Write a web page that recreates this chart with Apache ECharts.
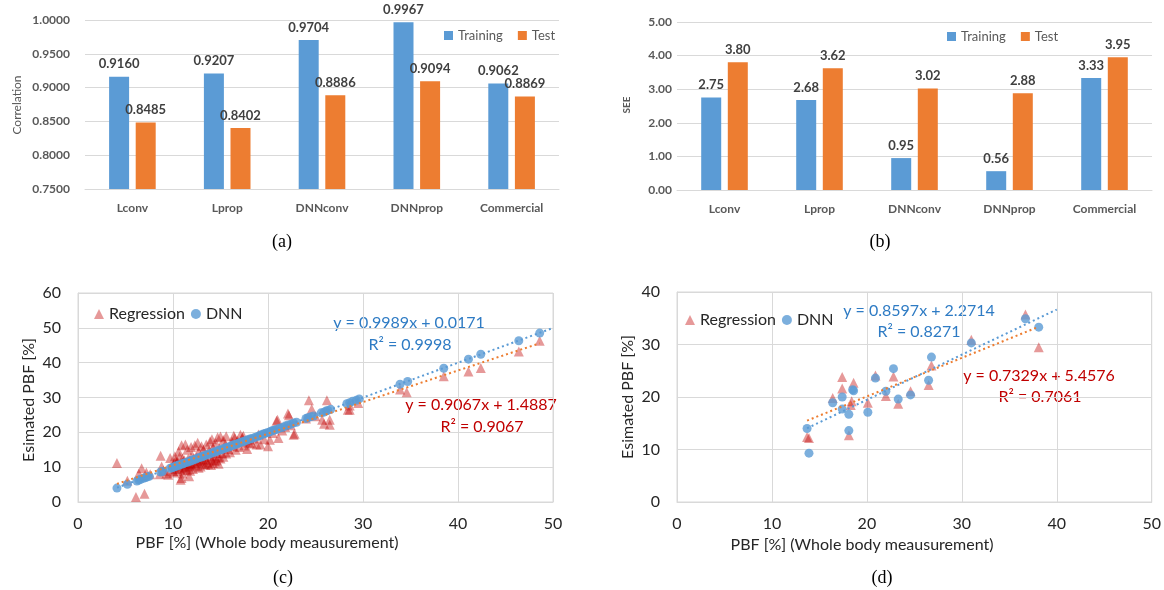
<!DOCTYPE html>
<html>
<head>
<meta charset="utf-8">
<script src="https://cdn.jsdelivr.net/npm/echarts@6/dist/echarts.min.js"></script>
<style>
html,body{margin:0;padding:0;background:#fff}
#chart{width:1164px;height:590px}
</style>
</head>
<body>
<div id="chart"></div>
<script>
// data
var barCategories = ['Lconv', 'Lprop', 'DNNconv', 'DNNprop', 'Commercial'];
var corrTraining = [0.9160, 0.9207, 0.9704, 0.9967, 0.9062];
var corrTest = [0.8485, 0.8402, 0.8886, 0.9094, 0.8869];
var seeTraining = [2.75, 2.68, 0.95, 0.56, 3.33];
var seeTest = [3.80, 3.62, 3.02, 2.88, 3.95];

// (c) whole body set
var wholeDNN = [
  [4.1,4.0],[5.2,5.1],[6.2,6.0],[6.4,6.3],[6.6,6.5],[6.9,6.8],[7.1,7.0],[7.3,7.2],[7.5,7.4],[8.7,8.6],[8.9,8.8],
  [9.7,9.7],[9.9,9.8],[10.0,10.0],[10.2,10.1],[10.3,10.3],[10.5,10.4],[10.6,10.6],[10.8,10.8],[11.0,10.9],[11.1,11.1],
  [11.3,11.3],[11.5,11.4],[11.7,11.7],[11.9,11.8],[12.0,12.0],[12.2,12.2],[12.4,12.3],[12.6,12.6],[12.8,12.8],[13.0,12.9],
  [13.1,13.1],[13.3,13.3],[13.5,13.5],[13.7,13.7],[13.9,13.8],[14.1,14.1],[14.3,14.3],[14.5,14.4],[14.7,14.7],[14.9,14.9],
  [15.1,15.0],[15.3,15.3],[15.5,15.5],[15.7,15.7],[15.9,15.8],[16.1,16.1],[16.3,16.3],[16.5,16.5],[16.7,16.6],[16.9,16.9],
  [17.1,17.1],[17.3,17.3],[17.5,17.4],[17.7,17.7],[17.9,17.9],[18.1,18.1],[18.3,18.2],[18.6,18.5],[18.9,18.8],[19.1,19.0],
  [19.3,19.3],[19.5,19.5],[19.7,19.7],[19.9,19.9],[20.1,20.0],[20.3,20.3],[20.5,20.5],[20.7,20.7],[20.9,20.8],[21.2,21.2],
  [21.5,21.4],[21.8,21.8],[22.1,22.1],[22.4,22.3],[22.7,22.7],[23.0,22.9],
  [24.0,24.0],[24.2,24.2],[24.5,24.5],[24.8,24.7],[25.6,25.6],[25.9,25.8],[26.1,26.1],[26.3,26.3],[26.6,26.6],
  [28.3,28.2],[28.6,28.5],[28.9,28.9],[29.3,29.2],[29.6,29.6],[33.9,33.8],[34.7,34.6],[38.5,38.4],[41.1,41.0],
  [42.4,42.4],[46.4,46.3],[48.6,48.5]
];
var wholeRegression = [
  [4.1,11.2],[5.2,6.1],[6.1,1.4],[7.0,2.4],[6.7,9.7],[6.4,8.2],[7.2,8.5],[7.6,8.0],[8.7,13.3],[8.8,10.2],[8.6,8.0],[9.0,9.0],
  [9.7,12.6],[10.2,13.1],[10.1,11.2],[10.9,16.3],[10.9,6.9],[10.8,6.4],[11.7,7.4],[10.1,8.5],[11.8,9.0],[11.5,15.0],
  [12.3,16.3],[12.3,11.2],[13.2,15.0],[13.9,17.4],[14.1,12.1],[14.6,14.1],[15.0,18.8],[15.5,16.5],[16.2,17.4],[16.5,18.4],
  [17.1,19.3],[17.6,17.4],[18.1,17.9],[18.8,16.5],[13.4,10.7],[14.4,11.7],[10.4,10.2],[11.1,11.7],[12.9,10.2],
  [10.0,9.0],[10.3,12.0],[10.6,10.8],[10.7,13.0],[11.0,12.5],[11.2,9.8],[11.4,10.5],[11.6,12.4],[11.9,11.0],[12.0,13.5],
  [12.1,9.5],[12.5,12.8],[12.7,14.5],[12.8,11.8],[13.0,16.0],[13.1,12.3],[13.3,13.0],[13.6,11.5],[13.8,14.8],[14.0,10.6],
  [14.2,15.6],[14.3,13.2],[14.5,17.0],[14.8,12.8],[14.9,15.3],[15.2,14.0],[15.3,17.8],[15.6,13.9],[15.8,15.2],[16.0,14.3],
  [16.3,16.0],[16.6,15.0],[16.8,17.6],[17.0,15.8],[17.3,18.5],[17.5,16.2],[17.8,15.2],[18.0,17.0],[18.3,16.8],[18.6,18.2],
  [10.2,9.5],[10.4,11.5],[10.5,8.8],[10.7,9.6],[10.9,11.0],[11.0,8.2],[11.2,12.0],[11.3,10.1],[11.5,9.2],[11.6,11.0],
  [11.8,10.2],[12.0,10.8],[12.2,12.5],[12.4,10.5],[12.6,11.5],[12.7,9.8],[12.9,12.0],[13.2,11.0],[13.5,12.2],[13.7,10.9],
  [14.0,12.8],[14.2,11.2],[14.6,12.0],[14.8,11.0],[15.0,12.5],[15.3,13.0],[10.6,14.5],[11.3,16.5],[11.9,15.8],[12.6,17.0],
  [13.5,16.5],[14.1,18.0],[14.7,18.6],[15.6,18.9],[16.4,19.0],[17.4,19.0],[9.3,8.2],[9.5,7.8],[10.3,10.6],[11.1,9.3],
  [19.2,16.5],[20.0,16.0],[20.2,17.9],[21.1,18.4],[20.9,23.3],[22.1,25.4],[22.7,19.3],[22.8,19.6],[21.0,23.6],[22.2,24.9],
  [19.6,18.0],[20.5,19.8],[21.5,20.5],[19.0,19.4],[21.8,21.5],[22.4,22.0],[24.3,29.2],[26.2,29.2],[24.6,26.7],[25.7,23.6],
  [26.5,23.6],[25.9,22.5],[26.5,22.2],[28.6,26.5],[28.4,26.5],[28.6,27.7],[29.5,28.4],[24.0,24.0],[25.0,24.6],
  [33.9,32.3],[34.6,31.5],[38.5,36.1],[41.1,37.5],[42.4,38.5],[46.4,43.2],[48.6,46.3]
];
// (d) test set
var testDNN = [
  [13.7,14.0],[13.9,9.3],[16.4,18.9],[17.4,20.0],[17.4,17.7],[18.1,16.7],[18.1,13.6],[18.5,21.4],[18.6,21.2],[20.1,17.1],
  [20.9,23.6],[22.0,21.1],[22.8,25.4],[23.3,19.6],[24.6,20.4],[26.5,23.2],[26.8,27.6],[31.0,30.3],[36.7,34.9],[38.1,33.3]
];
var testRegression = [
  [13.7,12.4],[13.9,12.2],[16.4,19.8],[17.4,23.8],[17.4,21.6],[18.6,22.7],[18.4,19.2],[18.3,18.5],[18.1,12.7],[20.1,18.9],
  [20.9,24.1],[22.0,20.2],[22.8,23.9],[23.3,18.7],[24.6,21.1],[26.5,22.3],[26.8,26.0],[31.0,30.9],[36.7,35.7],[38.1,29.5]
];
// trendlines: [slope, intercept], [x from, x to]
var fitWholeDNN = [0.9989, 0.0171], spanWholeDNN = [4.1, 50];
var fitWholeReg = [0.9067, 1.4887], spanWholeReg = [4.1, 48.6];
var fitTestDNN = [0.8597, 2.2714], spanTestDNN = [13.7, 40];
var fitTestReg = [0.7329, 5.4576], spanTestReg = [13.7, 38.1];

var BLUE = '#5B9BD5', ORANGE = '#ED7D31', RED = 'rgba(192,0,0,0.5)';
var FONT = 'Lato, "Noto Sans", sans-serif';
var SERIF = '"Liberation Serif", "DejaVu Serif", serif';
var GRID = '#d9d9d9';

function trend(fit, span) {
  return span.map(function (x) { return [x, fit[0] * x + fit[1]]; });
}

var myChart = echarts.init(document.getElementById('chart'));

function barX(i) {
  return {
    gridIndex: i, type: 'category', data: barCategories,
    axisTick: {show: false},
    axisLine: {lineStyle: {color: GRID}},
    axisLabel: {margin: 13, color: '#595959', fontWeight: 'bold', fontSize: 12, fontFamily: FONT}
  };
}
function valX(i) {
  return {
    gridIndex: i, type: 'value', min: 0, max: 50, interval: 10,
    axisLine: {show: true, lineStyle: {color: GRID}},
    axisTick: {show: false},
    splitLine: {lineStyle: {color: GRID}},
    axisLabel: {margin: 14, color: '#262626', fontSize: 16, fontFamily: FONT}
  };
}
function valY(i, max) {
  return {
    gridIndex: i, type: 'value', min: 0, max: max, interval: 10,
    axisLine: {show: true, lineStyle: {color: GRID}},
    axisTick: {show: false},
    splitLine: {lineStyle: {color: GRID}},
    axisLabel: {margin: 17, color: '#262626', fontSize: 16, fontFamily: FONT}
  };
}
function barLabel(dec) {
  return {
    show: true, position: 'top', distance: 6,
    formatter: function (p) { return p.value.toFixed(dec); },
    fontWeight: 'bold', fontSize: 13, color: '#404040', fontFamily: FONT
  };
}
function txt(x, y, text, size, color, extra) {
  var el = {
    type: 'text', x: x, y: y,
    style: {
      text: text, fill: color, fontSize: size, fontFamily: FONT,
      align: 'center', verticalAlign: 'middle', textAlign: 'center', textVerticalAlign: 'middle'
    }
  };
  if (extra) {
    for (var k in extra) {
      if (k === 'style') {
        for (var s in extra.style) el.style[s] = extra.style[s];
      } else {
        el[k] = extra[k];
      }
    }
  }
  return el;
}
var UP = Math.PI / 2;

var option = {
  animation: false,
  grid: [
    {left: 85, top: 20, width: 474, height: 169},
    {left: 677, top: 22, width: 475, height: 168},
    {left: 78, top: 293, width: 475, height: 209, show: true, borderColor: GRID, borderWidth: 1},
    {left: 677, top: 292, width: 475, height: 210, show: true, borderColor: GRID, borderWidth: 1}
  ],
  xAxis: [barX(0), barX(1), valX(2), valX(3)],
  yAxis: [
    {gridIndex: 0, type: 'value', min: 0.75, max: 1, interval: 0.05,
      axisLine: {show: false}, axisTick: {show: false},
      splitLine: {lineStyle: {color: GRID}},
      axisLabel: {margin: 15, color: '#595959', fontWeight: 'bold', fontSize: 12, fontFamily: FONT,
        formatter: function (v) { return v.toFixed(4); }}},
    {gridIndex: 1, type: 'value', min: 0, max: 5, interval: 1,
      axisLine: {show: false}, axisTick: {show: false},
      splitLine: {lineStyle: {color: GRID}},
      axisLabel: {margin: 5, color: '#595959', fontWeight: 'bold', fontSize: 12, fontFamily: FONT,
        formatter: function (v) { return v.toFixed(2); }}},
    valY(2, 60),
    valY(3, 40)
  ],
  legend: [
    {data: ['Training', 'Test'], left: 444, top: 29, padding: 0, itemWidth: 9, itemHeight: 9, itemGap: 15, icon: 'rect',
      textStyle: {fontSize: 13, color: '#595959', fontFamily: FONT}},
    {data: ['Training', 'Test'], left: 947, top: 30, padding: 0, itemWidth: 9, itemHeight: 9, itemGap: 15, icon: 'rect',
      textStyle: {fontSize: 13, color: '#595959', fontFamily: FONT}},
    {data: [{name: 'Regression', icon: 'triangle'}, {name: 'DNN', icon: 'circle'}], left: 94, top: 306, padding: 0,
      itemWidth: 10, itemHeight: 10, itemGap: 6, textStyle: {fontSize: 16, color: '#262626', fontFamily: FONT}},
    {data: [{name: 'Regression', icon: 'triangle'}, {name: 'DNN', icon: 'circle'}], left: 685, top: 312, padding: 0,
      itemWidth: 10, itemHeight: 10, itemGap: 6, textStyle: {fontSize: 16, color: '#262626', fontFamily: FONT}}
  ],
  series: [
    {name: 'Training', type: 'bar', xAxisIndex: 0, yAxisIndex: 0, data: corrTraining, barWidth: 20, barGap: '33%',
      itemStyle: {color: BLUE}, label: barLabel(4)},
    {name: 'Test', type: 'bar', xAxisIndex: 0, yAxisIndex: 0, data: corrTest, barWidth: 20, barGap: '33%',
      itemStyle: {color: ORANGE}, label: barLabel(4)},
    {name: 'Training', type: 'bar', xAxisIndex: 1, yAxisIndex: 1, data: seeTraining, barWidth: 20, barGap: '33%',
      itemStyle: {color: BLUE}, label: barLabel(2)},
    {name: 'Test', type: 'bar', xAxisIndex: 1, yAxisIndex: 1, data: seeTest, barWidth: 20, barGap: '33%',
      itemStyle: {color: ORANGE}, label: barLabel(2)},

    {name: 'Regression', type: 'scatter', xAxisIndex: 2, yAxisIndex: 2, data: wholeRegression,
      symbol: 'triangle', symbolSize: 10, itemStyle: {color: RED}},
    {name: 'DNN', type: 'scatter', xAxisIndex: 2, yAxisIndex: 2, data: wholeDNN,
      symbol: 'circle', symbolSize: 9, itemStyle: {color: BLUE}},
    {name: 'fitDNNc', type: 'line', xAxisIndex: 2, yAxisIndex: 2, data: trend(fitWholeDNN, spanWholeDNN),
      symbol: 'none', silent: true, lineStyle: {color: BLUE, width: 2, type: [2, 3]}},
    {name: 'fitRegc', type: 'line', xAxisIndex: 2, yAxisIndex: 2, data: trend(fitWholeReg, spanWholeReg),
      symbol: 'none', silent: true, lineStyle: {color: ORANGE, width: 2, type: [2, 3]}},

    {name: 'Regression', type: 'scatter', xAxisIndex: 3, yAxisIndex: 3, data: testRegression,
      symbol: 'triangle', symbolSize: 10, itemStyle: {color: RED}},
    {name: 'DNN', type: 'scatter', xAxisIndex: 3, yAxisIndex: 3, data: testDNN,
      symbol: 'circle', symbolSize: 9, itemStyle: {color: BLUE}},
    {name: 'fitDNNd', type: 'line', xAxisIndex: 3, yAxisIndex: 3, data: trend(fitTestDNN, spanTestDNN),
      symbol: 'none', silent: true, lineStyle: {color: BLUE, width: 2, type: [2, 3]}},
    {name: 'fitRegd', type: 'line', xAxisIndex: 3, yAxisIndex: 3, data: trend(fitTestReg, spanTestReg),
      symbol: 'none', silent: true, lineStyle: {color: ORANGE, width: 2, type: [2, 3]}}
  ],
  graphic: [
    txt(17, 105, 'Correlation', 12, '#595959', {rotation: UP}),
    txt(627, 105, 'SEE', 10, '#595959', {rotation: UP, style: {fontWeight: 'bold'}}),
    txt(29, 400, 'Esimated PBF [%]', 16, '#262626', {rotation: UP}),
    txt(628, 397, 'Esimated PBF [%]', 16, '#262626', {rotation: UP}),
    txt(267, 543, 'PBF [%] (Whole body meausurement)', 16, '#262626'),
    txt(862, 545, 'PBF [%] (Whole body meausurement)', 16, '#262626'),

    txt(409, 323, 'y = 0.9989x + 0.0171', 16, '#2E7BC4'),
    txt(410, 345, 'R² = 0.9998', 16, '#2E7BC4'),
    txt(481, 405, 'y = 0.9067x + 1.4887', 16, '#C00000'),
    txt(482, 427, 'R² = 0.9067', 16, '#C00000'),
    txt(919, 311, 'y = 0.8597x + 2.2714', 16, '#2E7BC4'),
    txt(919, 332, 'R² = 0.8271', 16, '#2E7BC4'),
    txt(1039, 376, 'y = 0.7329x + 5.4576', 16, '#C00000'),
    txt(1040, 397, 'R² = 0.7061', 16, '#C00000'),

    txt(282, 242, '(a)', 18, '#000', {style: {fontFamily: SERIF}}),
    txt(880, 242, '(b)', 18, '#000', {style: {fontFamily: SERIF}}),
    txt(283, 578, '(c)', 18, '#000', {style: {fontFamily: SERIF}}),
    txt(882, 578, '(d)', 18, '#000', {style: {fontFamily: SERIF}})
  ]
};

myChart.setOption(option);
</script>
</body>
</html>
